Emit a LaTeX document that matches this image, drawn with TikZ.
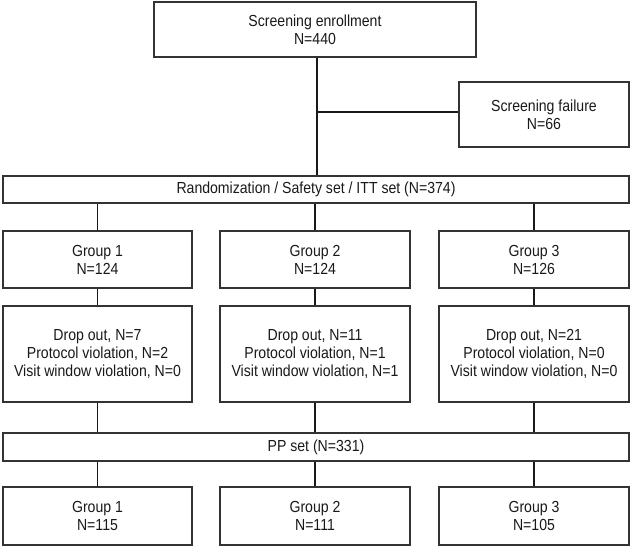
\documentclass[tikz,border=0pt]{standalone}
\usepackage{fontspec}
\setmainfont{Liberation Sans}[FakeStretch=0.88]
\begin{document}
\begin{tikzpicture}[x=1pt,y=-1pt,
  box/.style={draw=black!80,line width=1.4pt,rectangle,align=center,inner sep=0pt,
    font=\fontsize{16}{18}\selectfont,text=black!90},
  conn/.style={draw=black!90,line width=1.2pt}]
\useasboundingbox (0,0) rectangle (631,547);
% top
\node[box,minimum width=322pt,minimum height=55pt] (top) at (315,29.5) {Screening enrollment\\N=440};
\node[box,minimum width=170pt,minimum height=65pt] (fail) at (544,114.5) {Screening failure\\N=66};
\node[box,minimum width=626pt,minimum height=27pt] (rand) at (316,189.5) {Randomization / Safety set / ITT set (N=374)};
% groups
\node[box,minimum width=189pt,minimum height=57pt] (g1) at (97.5,259.5) {Group 1\\N=124};
\node[box,minimum width=190pt,minimum height=57pt] (g2) at (315,259.5) {Group 2\\N=124};
\node[box,minimum width=190pt,minimum height=57pt] (g3) at (534,259.5) {Group 3\\N=126};
% dropouts
\node[box,minimum width=189pt,minimum height=96pt] (d1) at (97.5,354) {Drop out, N=7\\Protocol violation, N=2\\Visit window violation, N=0};
\node[box,minimum width=190pt,minimum height=96pt] (d2) at (315,354) {Drop out, N=11\\Protocol violation, N=1\\Visit window violation, N=1};
\node[box,minimum width=190pt,minimum height=96pt] (d3) at (534,354) {Drop out, N=21\\Protocol violation, N=0\\Visit window violation, N=0};
% pp
\node[box,minimum width=626pt,minimum height=28pt] (pp) at (316,447) {PP set (N=331)};
% final
\node[box,minimum width=189pt,minimum height=58pt] (f1) at (97.5,516) {Group 1\\N=115};
\node[box,minimum width=190pt,minimum height=58pt] (f2) at (315,516) {Group 2\\N=111};
\node[box,minimum width=190pt,minimum height=58pt] (f3) at (534,516) {Group 3\\N=105};
% connectors
\coordinate (tb) at ([xshift=2pt]top.south);
\draw[conn] (tb) -- (tb |- rand.north);
\draw[conn] ([yshift=2.5pt]tb |- fail.west) -- ([yshift=2.5pt]fail.west);
\foreach \i in {1,2,3}{
  \draw[conn] (rand.south -| g\i.north) -- (g\i.north);
  \draw[conn] (g\i.south) -- (d\i.north);
  \draw[conn] (d\i.south) -- (pp.north -| d\i.south);
  \draw[conn] (pp.south -| f\i.north) -- (f\i.north);
}
\end{tikzpicture}
\end{document}
